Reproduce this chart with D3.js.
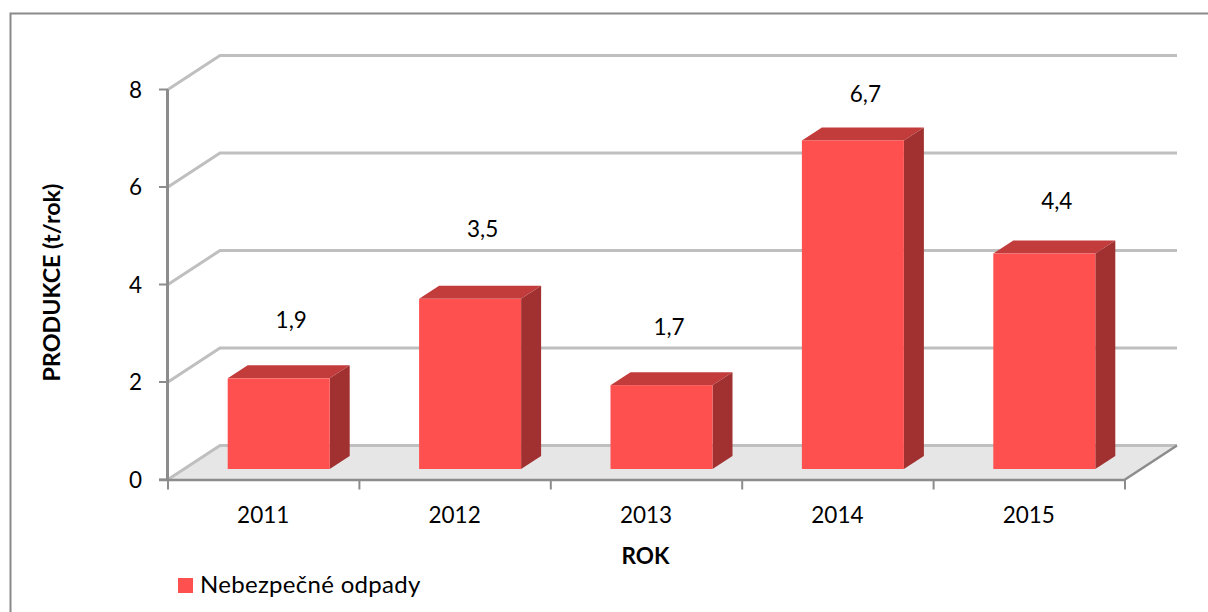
<!DOCTYPE html>
<html><head><meta charset="utf-8">
<script src="https://cdn.jsdelivr.net/npm/d3@7/dist/d3.min.js"></script>
<style>html,body{margin:0;padding:0;background:#fff}svg{display:block}</style>
</head><body><svg id="c" width="1208" height="612"></svg>
<script>
const categories = ["2011","2012","2013","2014","2015"];
const values = [1.86,3.49,1.72,6.74,4.42];
const valueLabels = ["1,9","3,5","1,7","6,7","4,4"];
const yTicks = [0,2,4,6,8];
const seriesName = "Nebezpečné odpady";
const xTitle = "ROK";
const yTitle = "PRODUKCE (t/rok)";

const font = "Lato,'Open Sans',sans-serif";
const fs = 22.5;
const svg = d3.select("#c");
const x = d3.scaleBand().domain(categories).range([168,1125]);
const y = d3.scaleLinear().domain([0,8]).range([479.5,89.5]);
const depth = {dx:52, dy:-34};
const barBase = {dx:15, dy:-10.5};
const barDepth = {dx:20, dy:-13};
const barW = 102;
const labelLift = [58,70,58,46,53];
const labelShift = [12,12,7,12,12];

// frame
svg.append("path").attr("d","M10.5,612V13.5H1208").attr("fill","none").attr("stroke","#8a8a8a").attr("stroke-width",2);

// floor
const [xa,xb] = x.range();
svg.append("polygon")
  .attr("points",[[xa,y(0)],[xa+depth.dx,y(0)+depth.dy],[xb+depth.dx,y(0)+depth.dy],[xb,y(0)]].join(" "))
  .attr("fill","#e6e6e6");

// gridlines on side + back walls
const grid = svg.append("g").attr("fill","none").attr("stroke","#bfbfbf").attr("stroke-width",3);
yTicks.forEach(t=>{
  grid.append("path").attr("d",`M${xa},${y(t)}L${xa+depth.dx},${y(t)+depth.dy}H${xb+depth.dx}`);
});

// floor front-right edge
svg.append("path").attr("d",`M${xb},${y(0)}L${xb+depth.dx},${y(0)+depth.dy}`).attr("fill","none").attr("stroke","#8c8c8c").attr("stroke-width",2.5);

// axes
const axes = svg.append("g").attr("fill","none").attr("stroke","#8c8c8c");
axes.append("path").attr("d",`M${xa-.5},${y(8)}V${y(0)}`).attr("stroke-width",3);
axes.append("path").attr("d",`M${xa-9},${y(0)+.5}H${xb}`).attr("stroke-width",2.5);
yTicks.forEach(t=>axes.append("path").attr("d",`M${xa-9},${y(t)}H${xa}`).attr("stroke-width",2));
x.domain().concat([null]).forEach((c,i)=>{
  const px = i<categories.length ? x(c) : xb;
  axes.append("path").attr("d",`M${px},${y(0)}V${y(0)+10}`).attr("stroke-width",2);
});

// bars
const h = v=>y(0)-y(v);
const bars = svg.append("g").selectAll("g").data(categories).join("g");
bars.each(function(c,i){
  const g = d3.select(this), v = values[i];
  const l = x(c)+x.bandwidth()/2+barBase.dx-barW/2, r = l+barW;
  const b = y(0)+barBase.dy, t = b-h(v);
  g.append("polygon").attr("points",[[l,t],[l+barDepth.dx,t+barDepth.dy],[r+barDepth.dx,t+barDepth.dy],[r,t]].join(" ")).attr("fill","#c33c3c");
  g.append("polygon").attr("points",[[r,t],[r+barDepth.dx,t+barDepth.dy],[r+barDepth.dx,b+barDepth.dy],[r,b]].join(" ")).attr("fill","#a13131");
  g.append("rect").attr("x",l).attr("y",t).attr("width",barW).attr("height",b-t).attr("fill","#ff5050");
  g.append("text").attr("x",x(c)+x.bandwidth()/2+barBase.dx+labelShift[i]+.5).attr("y",t-labelLift[i]+8)
    .attr("text-anchor","middle").attr("font-size",fs).attr("fill","#000").style("font-family",font).text(valueLabels[i]);
  svg.append("text").attr("x",x(c)+x.bandwidth()/2-.5).attr("y",y(0)+43).attr("text-anchor","middle")
    .attr("font-size",fs).attr("fill","#000").style("font-family",font).text(c);
});

// y tick labels
yTicks.forEach(t=>svg.append("text").attr("x",142).attr("y",y(t)+8).attr("text-anchor","end")
  .attr("font-size",fs).attr("fill","#000").style("font-family",font).text(t));

// titles
svg.append("text").attr("x",645.5).attr("y",564).attr("text-anchor","middle").attr("font-size",fs).attr("font-weight",700).style("font-family",font).text(xTitle);
svg.append("text").attr("transform","translate(60,282.5) rotate(-90)").attr("text-anchor","middle").attr("font-size",23.3).attr("font-weight",700).style("font-family",font).text(yTitle);

// legend
svg.append("rect").attr("x",178).attr("y",578).attr("width",15).attr("height",15).attr("fill","#ff5050");
svg.append("text").attr("x",200).attr("y",593).attr("font-size",24).attr("letter-spacing",0.3).style("font-family",font).text(seriesName);
</script></body></html>
